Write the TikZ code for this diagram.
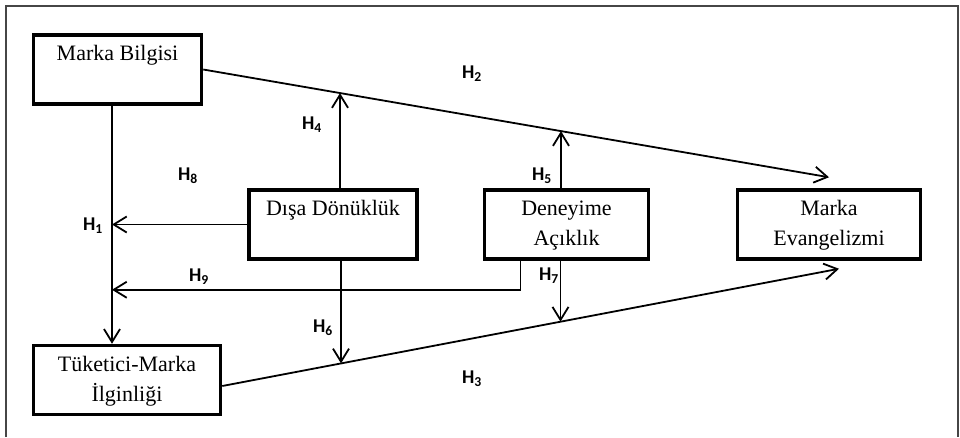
\documentclass[tikz,border=0pt]{standalone}
\usepackage{fontspec}
\setmainfont{Liberation Serif}
\newfontfamily\hypfont{Carlito}
\usepackage{tikz}
\usetikzlibrary{arrows.meta, calc}
\definecolor{FrameColor}{RGB}{70,70,70}
\newcommand{\hlabel}[1]{H\textsubscript{#1}}
\newcommand{\ls}{\rule[-6pt]{0pt}{24pt}}
\tikzstyle{arrow} = [line width=1.8pt, black, -{Straight Barb[length=13pt,width=16pt]}]
\tikzset{
  construct/.style={draw, line width=3.5pt, align=center, minimum height=69pt, font=\fontsize{22}{30}\selectfont},
  hyp/.style={font=\hypfont\bfseries\fontsize{19.5}{24}\selectfont, inner sep=1pt}
}
\begin{document}
\begin{tikzpicture}[x=1pt, y=-1pt]
                \useasboundingbox (0,0) rectangle (960,437);

                % Frame
                \draw[FrameColor, line width=1.5pt] (6,437) -- (6,6) -- (958,6) -- (958,437);

                % Constructs
                \node[construct, minimum width=168pt] (bilgi) at (117.5,69.5) {\ls Marka Bilgisi\\\ls};
                \node[construct, minimum width=168pt] (dis) at (333,224.5) {\ls Dışa Dönüklük\\\ls};
                \node[construct, minimum width=164pt] (deney) at (566.5,224.5) {\ls Deneyime\\\ls Açıklık};
                \node[construct, minimum width=183pt] (evang) at (829,224.5) {\ls Marka\\\ls Evangelizmi};
                \node[construct, minimum width=187pt] (ilgi) at (127,380) {\ls Tüketici-Marka\\\ls İlginliği};

                % Direct paths
                \draw[arrow] (bilgi.east) -- coordinate[pos=0.219] (m4) coordinate[pos=0.572] (m5) ([yshift=11pt]evang.north);
                \draw[arrow] ([yshift=-6pt]ilgi.east) -- coordinate[pos=0.193] (m6) coordinate[pos=0.549] (m7) ([xshift=10pt,yshift=-8pt]evang.south);
                \draw[arrow] ([xshift=-5.5pt]bilgi.south) coordinate (b1) -- (b1 |- ilgi.north);

                % Moderating paths
                \coordinate (d4) at ([xshift=7pt]dis.north);
                \coordinate (d5) at ([xshift=-5.5pt]deney.north);
                \coordinate (d6) at ([xshift=8pt]dis.south);
                \coordinate (d7) at ([xshift=-6pt]deney.south);
                \draw[arrow] (d4) -- (d4 |- m4);
                \draw[arrow] (d5) -- (d5 |- m5);
                \draw[arrow] (d6) -- (d6 |- m6);
                \draw[arrow] (d7) -- (d7 |- m7);
                \draw[arrow] (dis.west) -- (dis.west -| b1);
                \draw[arrow] ([xshift=-46pt]deney.south) -- ++(0,29) coordinate (k9) -- (k9 -| b1);

                % Hypotheses
                \node[hyp] (h1) at (93,226) {\hlabel{1}};
                \node[hyp] (h2) at (472,74) {\hlabel{2}};
                \node[hyp] (h3) at (472,379) {\hlabel{3}};
                \node[hyp] (h4) at (312,125) {\hlabel{4}};
                \node[hyp] (h5) at (542,176) {\hlabel{5}};
                \node[hyp] (h6) at (323,328) {\hlabel{6}};
                \node[hyp] (h7) at (549,276) {\hlabel{7}};
                \node[hyp] (h8) at (188,176) {\hlabel{8}};
                \node[hyp] (h9) at (199,277) {\hlabel{9}};
            \end{tikzpicture}
\end{document}
